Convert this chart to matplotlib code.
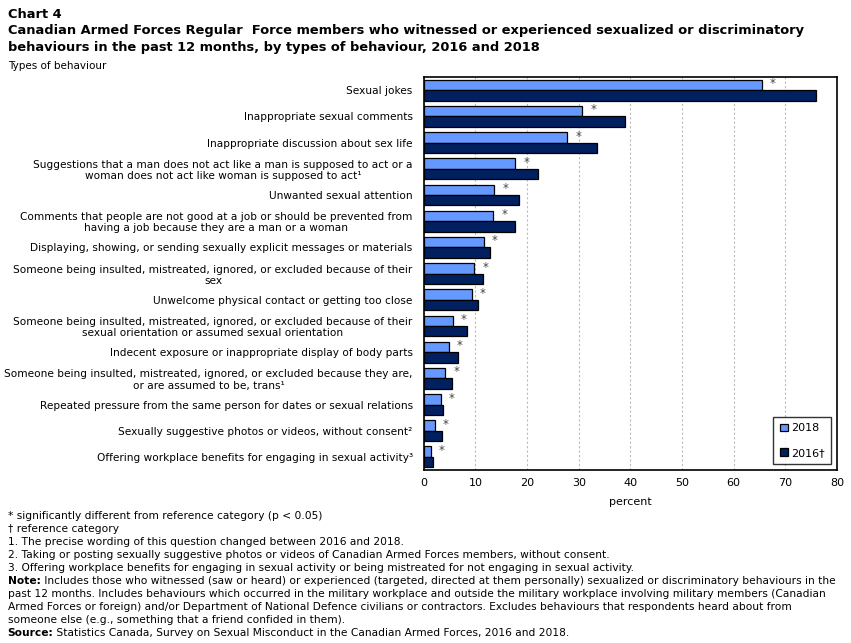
import numpy as np
import matplotlib
matplotlib.use("Agg")
import matplotlib.pyplot as plt

# Data (percent)
behaviours = [
    "Sexual jokes",
    "Inappropriate sexual comments",
    "Inappropriate discussion about sex life",
    "Suggestions that a man does not act like a man is supposed to act or a\nwoman does not act like woman is supposed to act\u00b9",
    "Unwanted sexual attention",
    "Comments that people are not good at a job or should be prevented from\nhaving a job because they are a man or a woman",
    "Displaying, showing, or sending sexually explicit messages or materials",
    "Someone being insulted, mistreated, ignored, or excluded because of their\nsex",
    "Unwelcome physical contact or getting too close",
    "Someone being insulted, mistreated, ignored, or excluded because of their\nsexual orientation or assumed sexual orientation",
    "Indecent exposure or inappropriate display of body parts",
    "Someone being insulted, mistreated, ignored, or excluded because they are,\nor are assumed to be, trans\u00b9",
    "Repeated pressure from the same person for dates or sexual relations",
    "Sexually suggestive photos or videos, without consent\u00b2",
    "Offering workplace benefits for engaging in sexual activity\u00b3",
]
val_2018 = [65.4, 30.7, 27.8, 17.7, 13.6, 13.4, 11.6, 9.7, 9.3, 5.6, 4.8, 4.1, 3.3, 2.1, 1.3]
val_2016 = [75.9, 39.0, 33.6, 22.1, 18.4, 17.7, 12.8, 11.5, 10.5, 8.4, 6.7, 5.4, 3.7, 3.5, 1.7]
signif = ["*"] * len(behaviours)

footnotes = [
    "* significantly different from reference category (p < 0.05)",
    "\u2020 reference category",
    "1. The precise wording of this question changed between 2016 and 2018.",
    "2. Taking or posting sexually suggestive photos or videos of Canadian Armed Forces members, without consent.",
    "3. Offering workplace benefits for engaging in sexual activity or being mistreated for not engaging in sexual activity.",
]
note_lines = [
    " Includes those who witnessed (saw or heard) or experienced (targeted, directed at them personally) sexualized or discriminatory behaviours in the",
    "past 12 months. Includes behaviours which occurred in the military workplace and outside the military workplace involving military members (Canadian",
    "Armed Forces or foreign) and/or Department of National Defence civilians or contractors. Excludes behaviours that respondents heard about from",
    "someone else (e.g., something that a friend confided in them).",
]
source_text = " Statistics Canada, Survey on Sexual Misconduct in the Canadian Armed Forces, 2016 and 2018."

plt.rcParams['font.family'] = ['DejaVu Sans']

fig = plt.figure(figsize=(8.51, 6.43), dpi=100)
ax = fig.add_axes([0.498, 0.269, 0.4855, 0.611])

y = np.arange(len(behaviours))
h = 0.4
ax.barh(y - h / 2, val_2018, height=h, color="#6699ff", edgecolor="black", linewidth=0.9, label="2018", zorder=3)
ax.barh(y + h / 2, val_2016, height=h, color="#002060", edgecolor="black", linewidth=0.9, label="2016\u2020", zorder=3)

for i in range(len(behaviours)):
    ax.text(val_2018[i] + 1.6, y[i] - h / 2 - 0.05, signif[i], color="#444444", fontsize=8.5,
            ha="left", va="center")

ax.set_yticks(y)
ax.set_yticklabels(behaviours, fontsize=7.6, multialignment="center", linespacing=1.15)
ax.set_ylim(len(behaviours) - 0.5, -0.5)
ax.set_xlim(0, 80)
ax.set_xticks(range(0, 81, 10))
ax.tick_params(axis="x", labelsize=8, length=0, pad=6)
ax.tick_params(axis="y", length=0, pad=8)
ax.set_xlabel("percent", fontsize=8, labelpad=6)
ax.grid(axis="x", color="#bbbbbb", linestyle=(0, (2, 2)), linewidth=0.8, zorder=0)
for s in ax.spines.values():
    s.set_linewidth(1.2)

leg = ax.legend(loc="lower right", fontsize=8, frameon=True, fancybox=False, edgecolor="black",
                handlelength=0.7, handleheight=0.7, handletextpad=0.3, labelspacing=1.3,
                borderaxespad=0.5, borderpad=0.6)
leg.get_frame().set_linewidth(1.0)

# titles
fig.text(0.009, 0.978, "Chart 4", fontsize=9.4, fontweight="bold", va="center")
fig.text(0.009, 0.952, "Canadian Armed Forces Regular  Force members who witnessed or experienced sexualized or discriminatory",
         fontsize=9.4, fontweight="bold", va="center")
fig.text(0.009, 0.926, "behaviours in the past 12 months, by types of behaviour, 2016 and 2018",
         fontsize=9.4, fontweight="bold", va="center")
fig.text(0.009, 0.897, "Types of behaviour", fontsize=7.5, va="center")

# footnotes
fs = 7.7
line = 13.0 / 643
y0 = 1 - 516 / 643
for k, t in enumerate(footnotes):
    fig.text(0.009, y0 - k * line, t, fontsize=fs, va="center")
yn = y0 - 5 * line
nb = fig.text(0.009, yn, "Note:", fontsize=fs, fontweight="bold", va="center")
ax.annotate(note_lines[0], xy=(1, 0.5), xycoords=nb, fontsize=fs, va="center", annotation_clip=False)
for k, t in enumerate(note_lines[1:]):
    fig.text(0.009, yn - (k + 1) * line, t, fontsize=fs, va="center")
ys = yn - 4 * line
sb = fig.text(0.009, ys, "Source:", fontsize=fs, fontweight="bold", va="center")
ax.annotate(source_text, xy=(1, 0.5), xycoords=sb, fontsize=fs, va="center", annotation_clip=False)

fig.savefig("out.png", dpi=100)
